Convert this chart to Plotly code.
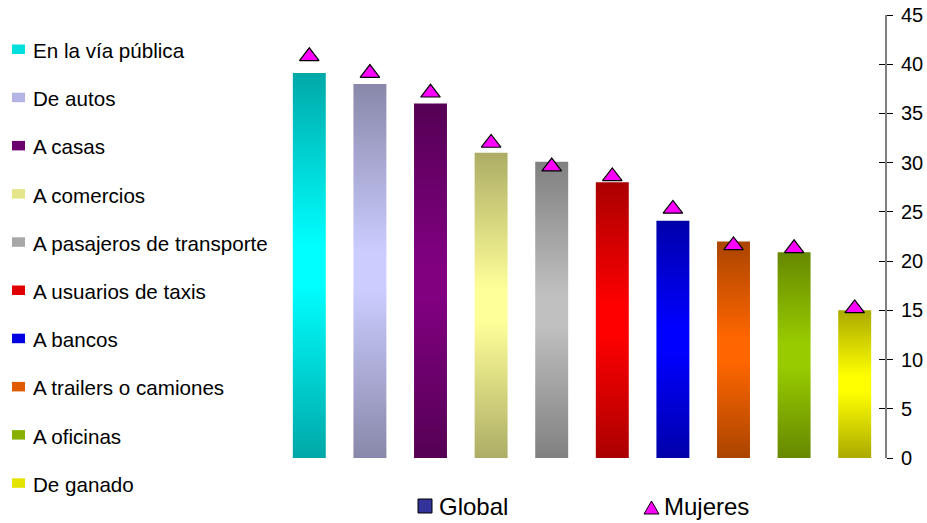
import plotly.graph_objects as go

# --- data -------------------------------------------------------------
categories = [
    "En la vía pública", "De autos", "A casas", "A comercios",
    "A pasajeros de transporte", "A usuarios de taxis", "A bancos",
    "A trailers o camiones", "A oficinas", "De ganado",
]
global_vals = [39.1, 38.0, 36.0, 31.0, 30.1, 28.0, 24.1, 22.0, 20.9, 15.0]
mujeres_vals = [40.8, 39.1, 37.1, 32.0, 29.6, 28.6, 25.3, 21.6, 21.3, 15.2]
y_ticks = [0, 5, 10, 15, 20, 25, 30, 35, 40, 45]

# (dark edge, light centre) colour pairs for each bar gradient
dark_colors = ["#00A8A8", "#8888AA", "#550055", "#ADAD66", "#808080",
               "#AA0000", "#0000AA", "#AA4400", "#668800", "#AAAA00"]
light_colors = ["#00FFFF", "#CCCCFF", "#800080", "#FFFF99", "#C0C0C0",
                "#FF0000", "#0000FF", "#FF6600", "#99CC00", "#FFFF00"]
swatch_colors = ["#00DEDE", "#B4B4E4", "#6C006C", "#E4E48A", "#A8A8A8",
                 "#E00000", "#0000E0", "#E05A00", "#88B000", "#E4E400"]

# --- geometry ---------------------------------------------------------
W, H = 927, 523
ML, MR, MT, MB = 279, 42, 15, 65
PW, PH = W - ML - MR, H - MT - MB
HALF_BAR = 0.272
FONT = "Liberation Sans, Arial, sans-serif"


def px(x):
    return (x - ML) / PW


def py(y):
    return (H - MB - y) / PH


fig = go.Figure()

# gradient-filled bars
for i, (cat, v) in enumerate(zip(categories, global_vals)):
    x0, x1 = i - HALF_BAR, i + HALF_BAR
    fig.add_trace(go.Scatter(
        x=[x0, x1, x1, x0, x0], y=[0, 0, v, v, 0],
        mode="none", fill="toself", name=cat, showlegend=False,
        fillgradient=dict(
            type="vertical",
            colorscale=[[0, dark_colors[i]], [0.45, light_colors[i]],
                        [0.55, light_colors[i]], [1, dark_colors[i]]],
        ),
        hoverinfo="skip",
    ))

# women's series as triangles
fig.add_trace(go.Scatter(
    x=list(range(len(categories))), y=mujeres_vals, mode="markers",
    name="Mujeres", showlegend=False,
    marker=dict(symbol="triangle-up", size=17, color="#FF00FF",
                line=dict(color="#000000", width=1.2)),
))

# left legend: category swatches and names
shapes = []
annotations = []
for i, cat in enumerate(categories):
    yc = 50.5 + 48.2 * i
    shapes.append(dict(type="rect", xref="paper", yref="paper",
                       x0=px(12), x1=px(25), y0=py(yc + 3.5), y1=py(yc - 6),
                       fillcolor=swatch_colors[i], line=dict(width=0)))
    annotations.append(dict(text=cat, xref="paper", yref="paper",
                            x=px(31), y=py(yc), xanchor="left", yanchor="middle",
                            showarrow=False,
                            font=dict(family=FONT, size=20.6, color="#000000")))

# bottom legend
shapes.append(dict(type="rect", xref="paper", yref="paper",
                   x0=px(418), x1=px(432), y0=py(513), y1=py(499),
                   fillcolor="#333399", line=dict(color="#000000", width=1)))
annotations.append(dict(text="Global", xref="paper", yref="paper",
                        x=px(437), y=py(507), xanchor="left", yanchor="middle",
                        showarrow=False,
                        font=dict(family=FONT, size=24, color="#000000")))
tri = "M {} {} L {} {} L {} {} Z".format(px(644), py(514), px(659), py(514),
                                         px(651.5), py(501))
shapes.append(dict(type="path", xref="paper", yref="paper", path=tri,
                   fillcolor="#FF00FF", line=dict(color="#000000", width=1)))
annotations.append(dict(text="Mujeres", xref="paper", yref="paper",
                        x=px(662), y=py(507), xanchor="left", yanchor="middle",
                        showarrow=False,
                        font=dict(family=FONT, size=24, color="#000000")))

fig.update_layout(
    width=W, height=H,
    margin=dict(l=ML, r=MR, t=MT, b=MB, autoexpand=False),
    paper_bgcolor="#FFFFFF", plot_bgcolor="#FFFFFF",
    showlegend=False,
    xaxis=dict(range=[-0.5, len(categories) - 0.5], visible=False,
               showgrid=False, zeroline=False, automargin=False),
    yaxis=dict(range=[0, 45], side="right", tickvals=y_ticks,
               showgrid=False, zeroline=False, automargin=False,
               showline=True, linecolor="#808080", linewidth=2,
               ticks="outside", ticklen=6, tickwidth=1, tickcolor="#000000",
               ticklabelstandoff=4,
               tickfont=dict(family=FONT, size=20, color="#000000")),
    yaxis2=dict(range=[0, 45], side="right", overlaying="y", tickvals=y_ticks,
                showgrid=False, zeroline=False, showline=False,
                showticklabels=False, automargin=False,
                ticks="inside", ticklen=6, tickwidth=1, tickcolor="#000000"),
    shapes=shapes,
    annotations=annotations,
)

# invisible trace so the secondary axis (inside tick marks) is rendered
fig.add_trace(go.Scatter(x=[None], y=[None], yaxis="y2", showlegend=False,
                         hoverinfo="skip"))

fig.write_html("out.html")
